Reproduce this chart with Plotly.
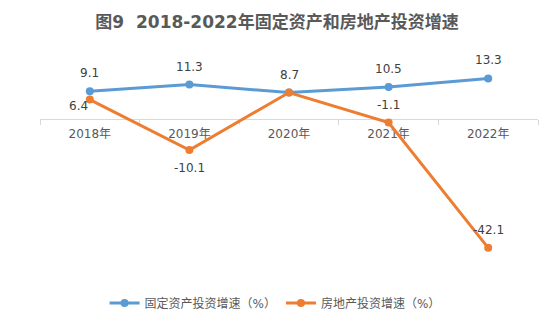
import plotly.graph_objects as go

years = ["2018年", "2019年", "2020年", "2021年", "2022年"]
fixed_asset = [9.1, 11.3, 8.7, 10.5, 13.3]
real_estate = [6.4, -10.1, 8.7, -1.1, -42.1]
series_names = ["固定资产投资增速（%）", "房地产投资增速（%）"]
title_text = "图9  2018-2022年固定资产和房地产投资增速"

BLUE = "#5b9bd5"
ORANGE = "#ed7d31"
TXT = "#404040"
FONT = "DejaVu Sans, Noto Sans CJK SC, sans-serif"
y_range = [-50, 20]

fig = go.Figure()
fig.add_trace(go.Scatter(x=years, y=fixed_asset, mode="lines+markers", name=series_names[0],
                         line=dict(color=BLUE, width=3), marker=dict(size=8, color=BLUE)))
fig.add_trace(go.Scatter(x=years, y=real_estate, mode="lines+markers", name=series_names[1],
                         line=dict(color=ORANGE, width=3), marker=dict(size=8, color=ORANGE)))

annotations = []
# fixed asset labels (2020 label shared with real-estate label)
for i, (x, v) in enumerate(zip(years, fixed_asset)):
    if i == 2:
        continue
    annotations.append(dict(x=x, y=v, text=f"{v:.1f}", showarrow=False, yshift=18,
                            font=dict(size=12, color=TXT, family=FONT)))
re_shifts = [(-11, -6), (0, -18), (0, 18), (0, 18), (0, 18)]
for (x, v), (dx, dy) in zip(zip(years, real_estate), re_shifts):
    annotations.append(dict(x=x, y=v, text=f"{v:.1f}", showarrow=False, xshift=dx, yshift=dy,
                            font=dict(size=12, color=TXT, family=FONT)))

fig.update_layout(
    width=554, height=322,
    margin=dict(l=40, r=16, t=58, b=50, autoexpand=False),
    paper_bgcolor="white", plot_bgcolor="white",
    font=dict(family=FONT, color="#595959", size=12),
    title=dict(text=f"<b>{title_text}</b>", x=0.5, xanchor="center", y=0.93, yanchor="middle",
               font=dict(size=17, color="#595959", family=FONT)),
    showlegend=True,
    legend=dict(orientation="h", x=0.472, xanchor="center", y=-0.145, yanchor="middle",
                font=dict(size=12, color="#595959", family=FONT), itemwidth=30,
                bgcolor="rgba(0,0,0,0)"),
    annotations=annotations,
)
fig.update_xaxes(
    type="category", anchor="free", range=[-0.5, len(years) - 0.5],
    position=(0 - y_range[0]) / (y_range[1] - y_range[0]),
    showline=True, linecolor="#d9d9d9", linewidth=1,
    ticks="outside", tickson="boundaries", ticklen=5, tickcolor="#d9d9d9",
    ticklabelstandoff=3,
    showgrid=False, zeroline=False, layer="below traces", automargin=False,
    tickfont=dict(size=12, color="#595959", family=FONT),
)
fig.update_yaxes(range=y_range, visible=False, showgrid=False, zeroline=False)

fig.write_html("out.html")
